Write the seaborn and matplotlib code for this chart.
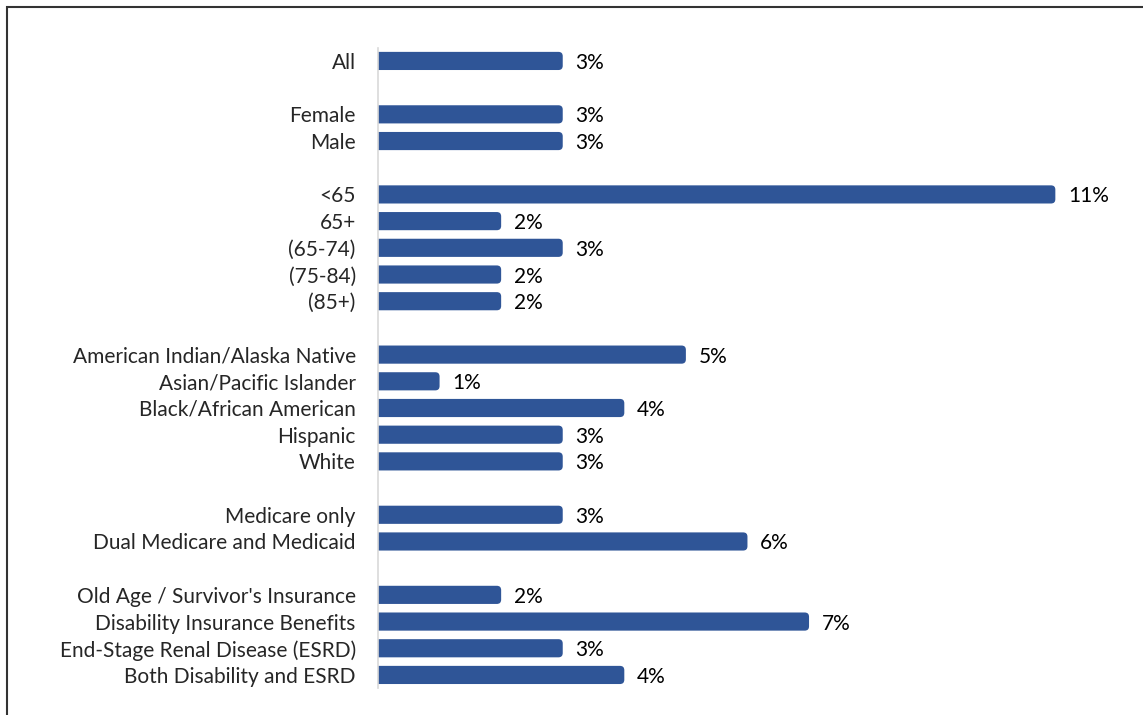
import matplotlib.pyplot as plt
import matplotlib.patches as mpatches
import pandas as pd
import seaborn as sns

labels = ['All',
          'Female', 'Male',
          '<65', '65+', '(65-74)', '(75-84)', '(85+)',
          'American Indian/Alaska Native', 'Asian/Pacific Islander', 'Black/African American',
          'Hispanic', 'White',
          'Medicare only', 'Dual Medicare and Medicaid',
          "Old Age / Survivor's Insurance", 'Disability Insurance Benefits',
          'End-Stage Renal Disease (ESRD)', 'Both Disability and ESRD']
values = [3.0,
          3.0, 3.0,
          11.0, 2.0, 3.0, 2.0, 2.0,
          5.0, 1.0, 4.0, 3.0, 3.0,
          3.0, 6.0,
          2.0, 7.0, 3.0, 4.0]
group_sizes = [1, 2, 5, 5, 2, 4]

# one empty row between groups
positions = []
slot = 0
for n in group_sizes:
    positions += list(range(slot, slot + n))
    slot += n + 1

df = pd.DataFrame({'pos': positions, 'value': values, 'label': labels})

sns.set_style('white')
plt.rcParams['font.family'] = ['Lato', 'DejaVu Sans']

fig = plt.figure(figsize=(11.43, 7.15), dpi=100)
ax = fig.add_axes([378 / 1143, 1 - 688.3 / 715, 742 / 1143, 640.7 / 715])

sns.barplot(data=df, x='value', y='pos', orient='h', native_scale=True,
            color='#2F5597', saturation=1, width=0.68, ax=ax)

texts = ax.bar_label(ax.containers[0], labels=[f'{v:.0f}%' for v in values],
                     padding=9, fontsize=15, color='black')
for t in texts:
    t.set_va('center_baseline')

# swap square bars for bars with a rounded right end
for p in list(ax.patches):
    x, y, w, h = p.get_x(), p.get_y(), p.get_width(), p.get_height()
    p.remove()
    box = mpatches.FancyBboxPatch((x - 0.3, y), w + 0.3, h,
                                  boxstyle='round,pad=0,rounding_size=0.07',
                                  mutation_aspect=2.3, facecolor='#2F5597',
                                  edgecolor='none')
    ax.add_patch(box)

ax.set_xlim(0, 12.05)
ax.set_ylim(23.5, -0.5)
ax.set_yticks(positions)
ax.set_yticklabels(labels, fontsize=15)
for t in ax.get_yticklabels():
    t.set_va('center_baseline')
ax.set_xticks([])
ax.set_xlabel('')
ax.set_ylabel('')
ax.tick_params(axis='y', length=0, pad=16)
for s in ['top', 'right', 'bottom']:
    ax.spines[s].set_visible(False)
ax.spines['left'].set_color('#D9D9D9')
ax.spines['left'].set_linewidth(1.2)

# outer frame, only left and top edges fall inside the image
frame = mpatches.Rectangle((7 / 1143, -0.1), 1.2, 1 - 7 / 715 + 0.1,
                           transform=fig.transFigure, fill=False,
                           edgecolor='#333333', linewidth=1.5)
fig.patches.append(frame)

fig.savefig('out.png', dpi=100)
